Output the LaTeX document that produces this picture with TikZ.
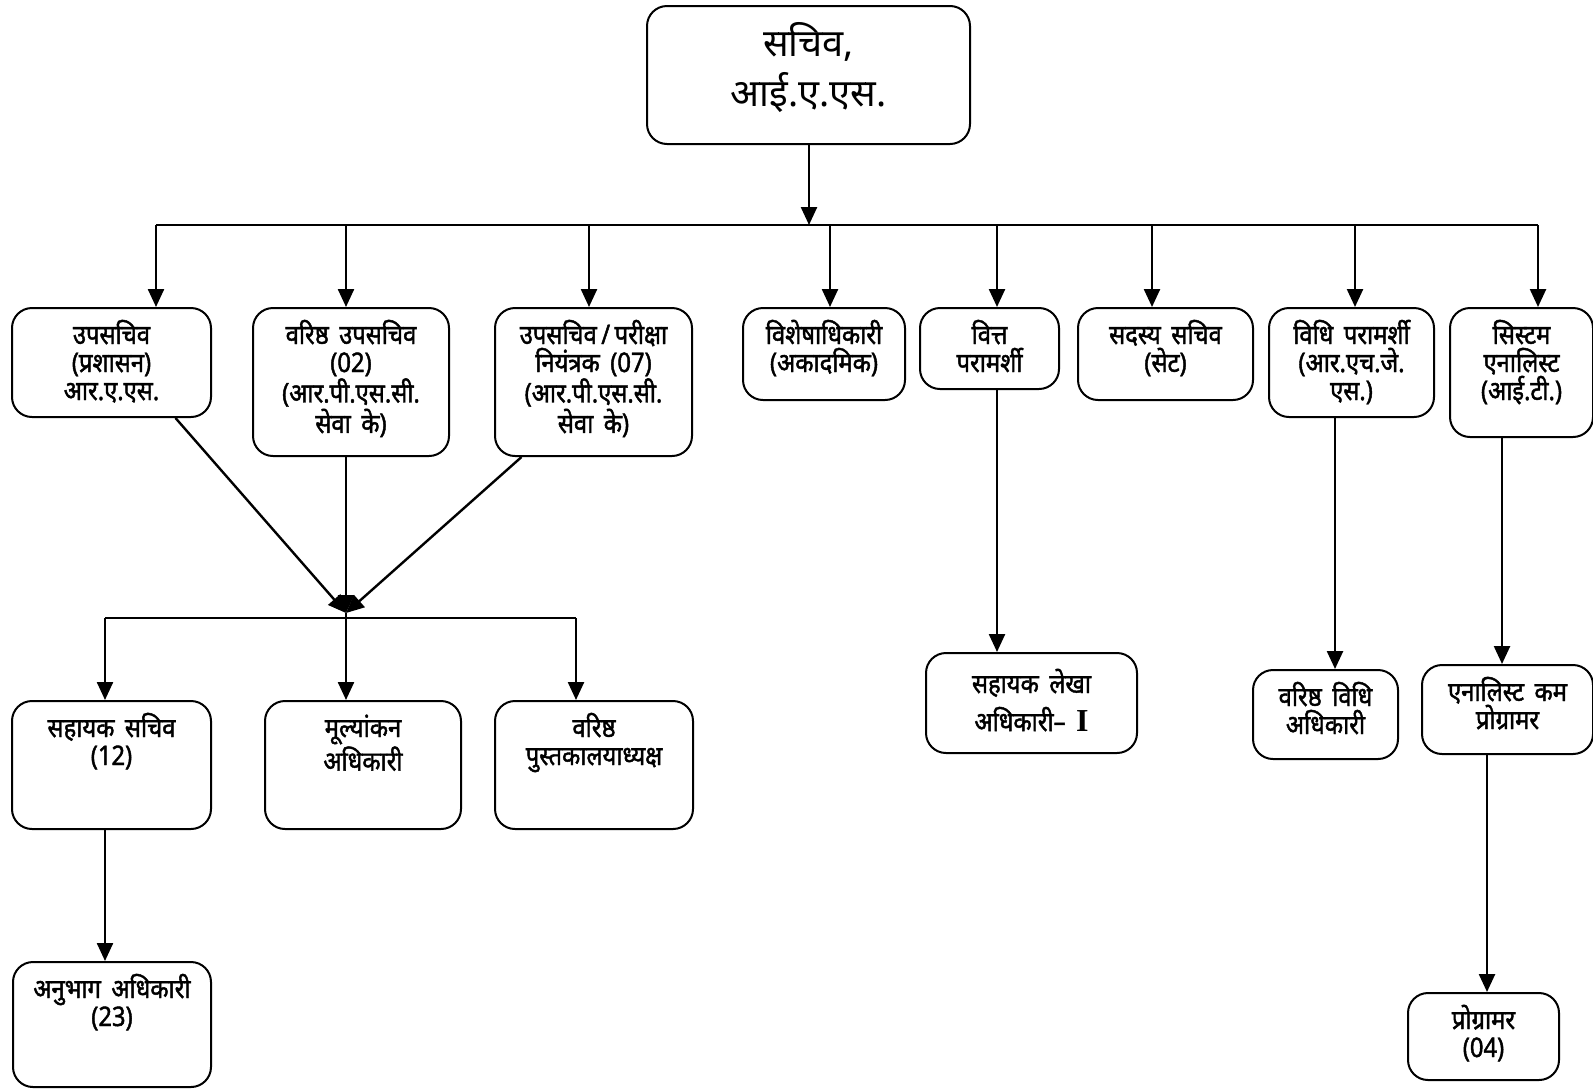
\documentclass[tikz,border=0pt]{standalone}
\usepackage{fontspec}
\usetikzlibrary{arrows.meta}
\newfontfamily\hindi[Script=Devanagari]{Noto Sans}
\newfontfamily\hindibold[Script=Devanagari,FakeBold=1.6,FakeStretch=0.88,WordSpace=1.7]{Noto Sans}
\newfontfamily\romanI{Liberation Serif}
\newlength\pxu
\setlength\pxu{0.5pt}
\newcommand{\card}[4][18pt]{\parbox[t][#3\pxu][t]{#2\pxu}{\centering\rule{0pt}{#1}#4}}
\tikzset{
  post/.style={draw, rounded corners=10pt, line width=1pt, inner sep=0pt, anchor=north west,
    font=\hindibold\fontsize{13.5pt}{14pt}\selectfont},
  head/.style={post, font=\hindi\fontsize{19pt}{25pt}\selectfont},
  arr/.style={line width=1.2pt, -{Triangle[width=8pt,length=9pt]}},
  link/.style={line width=1.2pt}
}
\begin{document}
\begin{tikzpicture}[x=0.5pt,y=-0.5pt]
\useasboundingbox (0,0) rectangle (1593,1088);

\node[head] (b0) at (646,5) {\card[25pt]{323}{138}{सचिव,\\आई.ए.एस.}};

\node[post] (b1) at (11,307) {\card{199}{109}{उपसचिव\\(प्रशासन)\\आर.ए.एस.}};
\node[post] (b2) at (252,307) {\card{196}{148}{वरिष्ठ उपसचिव\\(02)\\(आर.पी.एस.सी.\\सेवा के)}};
\node[post] (b3) at (494,307) {\card{197}{148}{उपसचिव\,/\,परीक्षा\\नियंत्रक (07)\\(आर.पी.एस.सी.\\सेवा के)}};
\node[post] (b4) at (742,307) {\card{162}{92}{विशेषाधिकारी\\(अकादमिक)}};
\node[post] (b5) at (919,307) {\card{139}{81}{वित्त\\परामर्शी}};
\node[post] (b6) at (1077,307) {\card{175}{92}{सदस्य सचिव\\(सेट)}};
\node[post] (b7) at (1268,307) {\card{165}{109}{विधि परामर्शी\\(आर.एच.जे.\\एस.)}};
\node[post] (b8) at (1449,307) {\card{143}{129}{सिस्टम\\एनालिस्ट\\(आई.टी.)}};

\node[post] (c1) at (11,700) {\card{199}{128}{सहायक सचिव\\(12)}};
\node[post] (c2) at (264,700) {\card{196}{128}{मूल्यांकन\\अधिकारी}};
\node[post] (c3) at (494,700) {\card{198}{128}{वरिष्ठ\\पुस्तकालयाध्यक्ष}};
\node[post] (c4) at (12,961) {\card{198}{125}{अनुभाग अधिकारी\\(23)}};

\node[post] (r5) at (925,652) {\card[20pt]{211}{100}{सहायक लेखा\\[4pt]अधिकारी– {\romanI\bfseries\fontsize{16pt}{14pt}\selectfont I}}};
\node[post] (r7) at (1252,669) {\card{145}{89}{वरिष्ठ विधि\\अधिकारी}};
\node[post] (r8) at (1421,664) {\card{171}{89}{एनालिस्ट कम\\प्रोग्रामर}};
\node[post] (r9) at (1407,992) {\card{151}{87}{प्रोग्रामर\\(04)}};

\coordinate (bus) at (809,225);
\draw[arr] (b0.south -| bus) -- (bus);
\foreach \n/\x in {1/156,2/346,3/589,4/830,5/997,6/1152,7/1355,8/1538}{
  \coordinate (d\n) at (\x,225);
  \draw[arr] (d\n) -- (d\n |- b\n.north);
}
\draw[link] (d1) -- (d8);

\coordinate (m) at (346,613);
\draw[arr] ([xshift=32pt]b1.south) -- (m);
\draw[arr] (b2.south -| m) -- (m);
\draw[arr] ([xshift=-36pt]b3.south) -- (m);
\coordinate (l1) at (105,618);
\coordinate (l3) at (576,618);
\draw[link] (l1) -- (l3);
\draw[arr] (l1) -- (l1 |- c1.north);
\draw[arr] (m) -- (m |- c2.north);
\draw[arr] (l3) -- (l3 |- c3.north);
\draw[arr] (c1.south -| l1) -- (l1 |- c4.north);

\coordinate (e7) at (1335,0);
\coordinate (e8) at (1502,0);
\coordinate (e9) at (1487,0);
\draw[arr] (b5.south -| d5) -- (d5 |- r5.north);
\draw[arr] (b7.south -| e7) -- (e7 |- r7.north);
\draw[arr] (b8.south -| e8) -- (e8 |- r8.north);
\draw[arr] (r8.south -| e9) -- (e9 |- r9.north);
\end{tikzpicture}
\end{document}
